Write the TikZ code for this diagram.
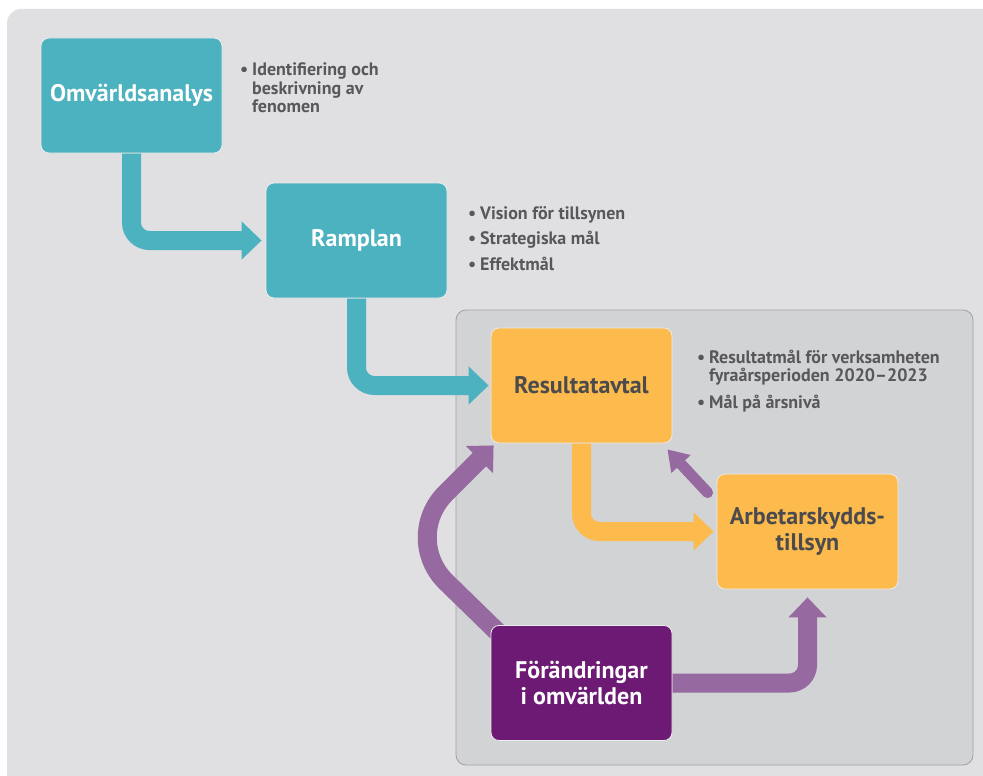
\documentclass[tikz,border=0pt]{standalone}
\usepackage{fontspec}
\setmainfont{PT Sans}
\usepackage{tikz}
\usetikzlibrary{arrows.meta, positioning, calc, backgrounds}

\definecolor{bggray}{HTML}{E0E0E2}
\definecolor{panelgray}{HTML}{D2D3D5}
\definecolor{panelline}{HTML}{A0A0A2}
\definecolor{tealc}{HTML}{4DB2BF}
\definecolor{orangec}{HTML}{FCBB4C}
\definecolor{violc}{HTML}{6C1A74}
\definecolor{violarrow}{HTML}{9669A0}
\definecolor{titlegray}{HTML}{4B4B4D}
\definecolor{bulletgray}{HTML}{58585A}

\newcommand{\bul}{\makebox[12pt][l]{\textbullet}}
\newcommand{\ind}{\hspace*{12pt}}

\tikzset{
    box/.style={rounded corners=8pt, draw=white!85!gray, line width=0.8pt,
        minimum width=181pt, minimum height=115pt, inner sep=0pt, align=center,
        font=\bfseries\fontsize{24}{26.5}\selectfont},
    tealbox/.style={box, fill=tealc, text=white},
    orangebox/.style={box, fill=orangec, text=titlegray},
    violbox/.style={box, fill=violc, text=white},
    bullets/.style={anchor=base west, inner sep=0pt, align=left, text=bulletgray,
        font=\bfseries\fontsize{18}{18.5}\selectfont},
    flow/.style={line width=19pt, rounded corners=18pt,
        -{Triangle[width=37pt 0 0, length=20pt 0 0]}},
}

\begin{document}
\begin{tikzpicture}[x=1pt, y=-1pt]
    \useasboundingbox (0,0) rectangle (983,776);

    % Backgrounds
    \begin{scope}[on background layer]
        \fill[bggray, rounded corners=14pt] (7,9) rectangle (1010,800);
        \fill[panelgray, draw=panelline, line width=0.8pt, rounded corners=10pt]
            (456,310) rectangle (973,765);
    \end{scope}

    % Boxes
    \node[tealbox] (omv) at (131.5,95.5) {Omvärldsanalys};
    \node[tealbox] (ram) at (356.5,240.5) {Ramplan};
    \node[orangebox] (res) at (581.5,385.5) {Resultatavtal};
    \node[orangebox] (arb) at (807.5,531.5) {Arbetarskydds-\\tillsyn};
    \node[violbox] (fr) at (581.5,683) {Förändringar\\i omvärlden};

    % Bullet texts (placed at baseline of last line)
    \node[bullets] (omvtext) at (240,113) {\bul Identifiering och\\\ind beskrivning av\\\ind fenomen};
    \node[bullets] (ramtext) at (468,270) {\bul Vision för tillsynen\\[7pt]\bul Strategiska mål\\[7pt]\bul Effektmål};
    \node[bullets] (restext) at (697,408) {\bul Resultatmål för verksamheten\\\ind fyraårsperioden 2020–2023\\[8pt]\bul Mål på årsnivå};

    % Arrows
    \begin{scope}[on background layer]
        \draw[flow, tealc, shorten >=4pt] (omv.south) |- (ram.west);
        \draw[flow, tealc, shorten >=2pt] (ram.south) |- (res.west);
        \draw[flow, orangec, shorten >=3pt] (res.south) |- (arb.west);
        \draw[flow, violarrow, shorten >=8pt] (fr.east) -| (arb.south);
        % curved arrow up the left side
        \coordinate (bend) at (401,538);
        \draw[flow, violarrow, rounded corners=63pt]
            ([shift={(8,8)}]fr.north west) -- (bend) -- ([shift={(3,2)}]res.south west);
        % short feedback arrow
        \draw[violarrow, line width=11pt, line cap=round,
            -{Triangle[width=25pt 0 0, length=20pt 0 0]}]
            ([shift={(-9,19)}]arb.north west) -- ([shift={(-5,6)}]res.south east);
    \end{scope}
\end{tikzpicture}
\end{document}
